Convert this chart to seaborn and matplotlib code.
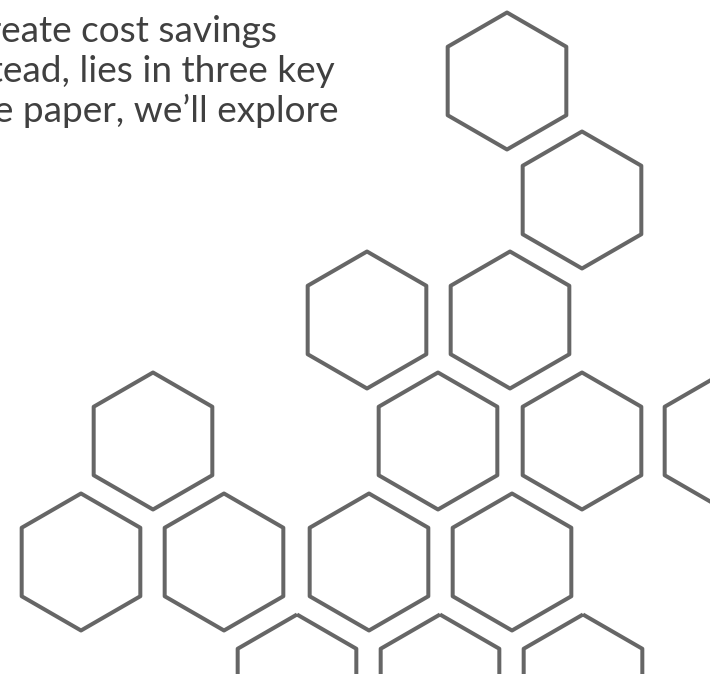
import matplotlib.pyplot as plt
import pandas as pd
import seaborn as sns

# hexagon centres (pixel-like units, y grows downwards)
hex_x = [507, 582, 367, 510, 153, 438, 582, 724, 81, 224, 369, 512, 297, 440, 583]
hex_y = [81, 200, 320, 320, 441, 441, 441, 441, 562, 562, 562, 562, 683, 683, 683]

# visible text lines (cut at the left edge of the crop)
text_lines = ["create cost savings", "instead, lies in three key", "white paper, we\u2019ll explore"]
text_right = [277, 335, 338]
text_base = [42, 82, 122]

W, H, DPI = 710, 674, 72

sns.set_style("white")
plt.rcParams["font.family"] = ["Lato", "DejaVu Sans"]

fig = plt.figure(figsize=(W / DPI, H / DPI), dpi=DPI)
ax = fig.add_axes([0, 0, 1, 1])

hexes = pd.DataFrame({"x": hex_x, "y": hex_y})
sns.scatterplot(
    data=hexes, x="x", y="y", ax=ax,
    marker="h", s=137 ** 2,
    facecolor="none", edgecolor="#666666", linewidth=4,
    legend=False,
)

for s, xr, yb in zip(text_lines, text_right, text_base):
    ax.text(xr, yb, s, ha="right", va="baseline", fontsize=37, color="#404040")

ax.set_xlim(0, W)
ax.set_ylim(H, 0)
ax.set_axis_off()

fig.savefig("out.png", dpi=DPI)
plt.close(fig)
